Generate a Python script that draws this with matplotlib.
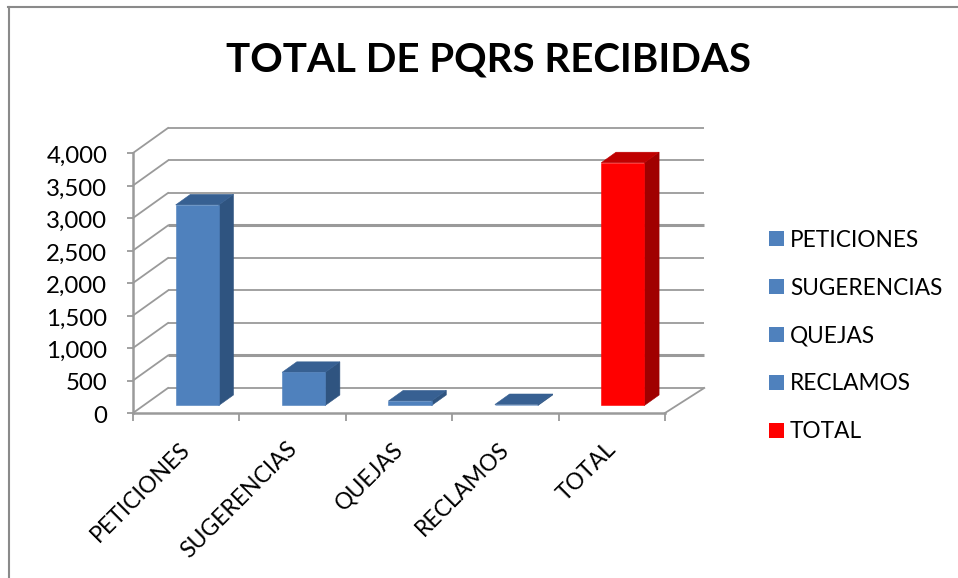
import matplotlib
matplotlib.use("Agg")
import matplotlib.pyplot as plt
from matplotlib.patches import Patch
from matplotlib.lines import Line2D
from matplotlib.transforms import ScaledTranslation

categories = ["PETICIONES", "SUGERENCIAS", "QUEJAS", "RECLAMOS", "TOTAL"]
values = [3086, 510, 70, 15, 3735]
y_ticks = [0, 500, 1000, 1500, 2000, 2500, 3000, 3500, 4000]
y_tick_labels = ["0", "500", "1,000", "1,500", "2,000", "2,500", "3,000", "3,500", "4,000"]
title = "TOTAL DE PQRS RECIBIDAS"

BLUE = ("#4F81BD", "#376092", "#2F5480")
RED = ("#FF0000", "#BF0000", "#A00000")
bar_colors = [BLUE, BLUE, BLUE, BLUE, RED]
GRID = "#9A9A9A"
W, H = 958, 578

plt.rcParams["font.family"] = ["Lato", "DejaVu Sans"]
fig = plt.figure(figsize=(W / 100, H / 100), dpi=100)
ax = fig.add_axes([133 / W, 1 - 413 / H, 532 / W, 260 / H])
ax.set_xlim(0, len(categories))
ax.set_ylim(0, 4000)

DX = 0.329   # depth shift of the back wall in category units
DY = 385.0   # depth shift of the back wall in value units
RIGHT_EXTRA = 0.04  # the back wall runs slightly further right (perspective)


def proj(x, y, d):
    return x + d * DX, y + d * DY


# wall + floor gridlines
n = len(categories)
for v in y_ticks:
    a, b = proj(0, v, 0), proj(0, v, 1)
    c = proj(n + RIGHT_EXTRA, v, 1)
    ax.plot([a[0], b[0]], [a[1], b[1]], color=GRID, lw=1.3, clip_on=False, zorder=1)
    lw = 2.2 if v in (500, 2500) else 1.3
    ax.plot([b[0], c[0]], [b[1], c[1]], color=GRID, lw=lw, clip_on=False, zorder=1,
            solid_capstyle="butt")
a, b = proj(n, 0, 0), proj(n + RIGHT_EXTRA, 0, 1)
ax.plot([a[0], b[0]], [a[1], b[1]], color=GRID, lw=1.3, clip_on=False, zorder=1)

# bars
BW = 0.405
D0, D1 = 0.30, 0.72
for i, (val, cols) in enumerate(zip(values, bar_colors)):
    x0 = i + 0.505 - BW / 2
    x1 = x0 + BW
    front = [proj(x0, 0, D0), proj(x1, 0, D0), proj(x1, val, D0), proj(x0, val, D0)]
    top = [proj(x0, val, D0), proj(x1, val, D0), proj(x1, val, D1), proj(x0, val, D1)]
    side = [proj(x1, 0, D0), proj(x1, 0, D1), proj(x1, val, D1), proj(x1, val, D0)]
    for poly, c in ((side, cols[2]), (top, cols[1]), (front, cols[0])):
        ax.fill([p[0] for p in poly], [p[1] for p in poly], color=c, lw=0.4,
                clip_on=False, zorder=3)

# axes
for s in ("top", "right"):
    ax.spines[s].set_visible(False)
for s in ("left", "bottom"):
    ax.spines[s].set_color(GRID)
    ax.spines[s].set_linewidth(1.8)
    ax.spines[s].set_zorder(2)
ax.patch.set_alpha(0)
ax.set_yticks(y_ticks, y_tick_labels)
ax.set_xticks(range(n + 1), [""] * (n + 1))
ax.tick_params(axis="y", length=4.5, width=1.3, color=GRID, labelsize=17.3, pad=14, labelcolor="black")
ax.tick_params(axis="x", length=5.5, width=1.3, color=GRID)
shift = ScaledTranslation(0, -1.5 / 100, fig.dpi_scale_trans)
for lab in ax.get_yticklabels():
    lab.set_transform(lab.get_transform() + shift)
for i, c in enumerate(categories):
    ax.annotate(c, xy=(i + 0.5, 0), xytext=(0.5, -23.5), textcoords="offset points",
                rotation=45, rotation_mode="anchor", ha="right", va="center",
                fontsize=16.5, color="black", annotation_clip=False)

fig.text(489 / W, 1 - 60 / H, title, ha="center", va="center",
         fontsize=29, fontweight="bold", color="black")

handles = [Patch(facecolor=c[0], edgecolor="none") for c in bar_colors]
fig.legend(handles, categories, loc="center left", bbox_to_anchor=(769 / W, 1 - 336 / H),
           frameon=False, fontsize=16.3, labelspacing=1.19, handlelength=0.68,
           handleheight=0.68, handletextpad=0.24, borderpad=0, borderaxespad=0)

# chart frame
frame = "#8A8A8A"
fig.add_artist(Line2D([8.5 / W, 8.5 / W], [0, 1 - 7 / H], color=frame, lw=1.5))
fig.add_artist(Line2D([8 / W, 1], [1 - 7 / H, 1 - 7 / H], color=frame, lw=1.5))

fig.savefig("out.png", dpi=100)
